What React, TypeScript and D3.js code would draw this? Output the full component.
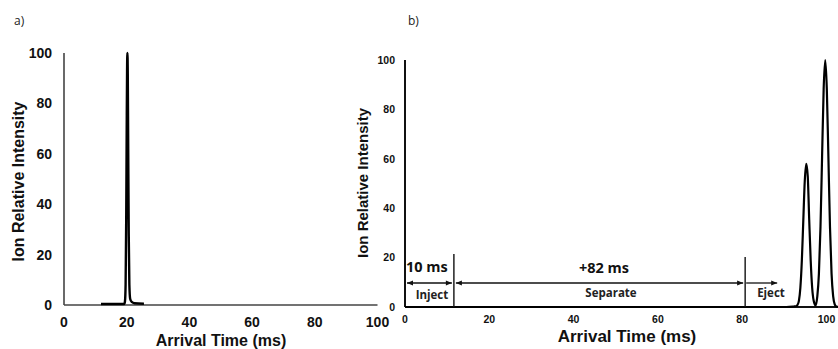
import React from "react";
import * as d3 from "d3";

// ---------- data ----------
const xTicks = [0, 20, 40, 60, 80, 100];
const yTicks = [0, 20, 40, 60, 80, 100];

// Panel a: single sharp peak near 20 ms
const timeA = [11.8, 19.2, 19.45, 19.65, 19.85, 20.0, 20.12, 20.22, 20.34, 20.48, 20.65, 20.85, 21.1, 21.6, 22.5, 25.5];
const intensityA = [0.4, 0.4, 1.5, 8, 35, 70, 93, 100, 92, 62, 28, 8, 2.5, 1.2, 0.7, 0.5];

// Panel b: two peaks near 95 and 100 ms
const timeB = [0, 90.5, 92.2, 92.75, 93.1, 93.45, 93.8, 94.15, 94.5, 94.85, 95.2, 95.55, 95.9, 96.25, 96.6, 96.95, 97.4, 97.825, 98.2, 98.575, 98.95, 99.325, 99.7, 100.075, 100.45, 100.825, 101.2, 101.575, 101.95, 102.325, 102.9];
const intensityB = [0, 0, 0.2, 0.3, 0.8, 2.5, 7.8, 18.8, 35.2, 51.2, 58, 53, 35.2, 18.8, 7.8, 2.6, 0.6, 4.4, 13.5, 32.5, 60.7, 88.2, 100, 88.2, 60.7, 32.5, 13.5, 4.4, 1.1, 0.2, 0];

// Panel b annotation phases (ms)
const phaseBounds = [0, 11.6, 80.7, 88.3];
const phaseNames = ["Inject", "Separate", "Eject"];
const durationLabels = ["10 ms", "+82 ms"];

const ARIAL = "'Liberation Sans', Arial, sans-serif";
const OPEN = "'Open Sans', 'DejaVu Sans', sans-serif";

export default function App() {
  // ---- scales panel a
  const xa = d3.scaleLinear().domain([0, 100]).range([64, 377.5]);
  const ya = d3.scaleLinear().domain([0, 100]).range([305, 53]);
  // ---- scales panel b
  const xb = d3.scaleLinear().domain([0, 100]).range([405, 826.5]);
  const yb = d3.scaleLinear().domain([0, 100]).range([307, 60]);

  const lineA = d3
    .line<number>()
    .x((_, i) => xa(timeA[i]))
    .y((d) => ya(d))
    .curve(d3.curveMonotoneX);
  const lineB = d3
    .line<number>()
    .x((_, i) => xb(timeB[i]))
    .y((d) => yb(d))
    .curve(d3.curveMonotoneX);

  const arrowY = 283;
  const headL = (x: number) => `M${x},${arrowY} l6,-2.6 l0,5.2 Z`;
  const headR = (x: number) => `M${x},${arrowY} l-6,-2.6 l0,5.2 Z`;

  return (
    <svg
      width={838}
      height={349}
      style={{ position: "absolute", left: 0, top: 0, background: "#fff" }}
    >
      <rect width={838} height={349} fill="#fff" />
      {/* ---------------- Panel a ---------------- */}
      <text x={14} y={25} fontFamily={OPEN} fontSize={12} fill="#222">a)</text>
      <line x1={xa(0)} x2={xa(0)} y1={ya(100)} y2={ya(0)} stroke="#444" strokeWidth={1.6} />
      <line x1={xa(0)} x2={xa(100)} y1={ya(0)} y2={ya(0)} stroke="#444" strokeWidth={1.6} />
      {yTicks.map((t) => (
        <text key={"ya" + t} x={52} y={ya(t)} dy="0.36em" textAnchor="end"
          fontFamily={ARIAL} fontWeight="bold" fontSize={14} fill="#111">{t}</text>
      ))}
      {xTicks.map((t) => (
        <text key={"xa" + t} x={xa(t)} y={327} textAnchor="middle"
          fontFamily={ARIAL} fontWeight="bold" fontSize={14} fill="#111">{t}</text>
      ))}
      <path d={lineA(intensityA) || ""} fill="none" stroke="#000" strokeWidth={2.4} strokeLinejoin="round" />
      <text transform={`translate(24,181.5) rotate(-90)`} textAnchor="middle"
        fontFamily={ARIAL} fontWeight="bold" fontSize={16} fill="#111">Ion Relative Intensity</text>
      <text x={221} y={346} textAnchor="middle"
        fontFamily={ARIAL} fontWeight="bold" fontSize={16} fill="#111">Arrival Time (ms)</text>

      {/* ---------------- Panel b ---------------- */}
      <text x={408} y={25} fontFamily={OPEN} fontSize={12} fill="#222">b)</text>
      <line x1={xb(0)} x2={xb(0)} y1={yb(100)} y2={yb(0)} stroke="#111" strokeWidth={2} />
      <line x1={xb(0)} x2={838} y1={yb(0)} y2={yb(0)} stroke="#111" strokeWidth={2} />
      {yTicks.map((t) => (
        <text key={"yb" + t} x={395} y={yb(t)} dy="0.36em" textAnchor="end"
          fontFamily={ARIAL} fontWeight="bold" fontSize={10.5} fill="#111">{t}</text>
      ))}
      {xTicks.map((t) => (
        <text key={"xb" + t} x={xb(t)} y={323} textAnchor="middle"
          fontFamily={ARIAL} fontWeight="bold" fontSize={10.5} fill="#111">{t}</text>
      ))}
      <path d={lineB(intensityB) || ""} fill="none" stroke="#000" strokeWidth={2.2} strokeLinejoin="round" />
      <text transform={`translate(368,183) rotate(-90)`} textAnchor="middle"
        fontFamily={ARIAL} fontWeight="bold" fontSize={15} fill="#111">Ion Relative Intensity</text>
      <text x={627} y={342} textAnchor="middle"
        fontFamily={ARIAL} fontWeight="bold" fontSize={17} fill="#111">Arrival Time (ms)</text>

      {/* phase boundaries */}
      <line x1={xb(phaseBounds[1])} x2={xb(phaseBounds[1])} y1={254} y2={yb(0)} stroke="#111" strokeWidth={1.4} />
      <line x1={xb(phaseBounds[2])} x2={xb(phaseBounds[2])} y1={257} y2={yb(0)} stroke="#111" strokeWidth={1.4} />

      {/* arrows */}
      <line x1={xb(phaseBounds[0]) + 2} x2={xb(phaseBounds[1]) - 2} y1={arrowY} y2={arrowY} stroke="#111" strokeWidth={1.3} />
      <path d={headL(xb(phaseBounds[0]) + 2)} fill="#111" />
      <path d={headR(xb(phaseBounds[1]) - 2)} fill="#111" />
      <line x1={xb(phaseBounds[1]) + 2} x2={xb(phaseBounds[2]) - 2} y1={arrowY} y2={arrowY} stroke="#111" strokeWidth={1.3} />
      <path d={headL(xb(phaseBounds[1]) + 2)} fill="#111" />
      <path d={headR(xb(phaseBounds[2]) - 2)} fill="#111" />
      <line x1={xb(phaseBounds[2]) + 1} x2={xb(phaseBounds[3])} y1={arrowY} y2={arrowY} stroke="#111" strokeWidth={1.3} />
      <path d={headR(xb(phaseBounds[3]))} fill="#111" />

      {/* duration labels */}
      <text x={406} y={272} fontFamily={OPEN} fontWeight="bold" fontSize={14.5} fill="#111">{durationLabels[0]}</text>
      <text x={604} y={273} textAnchor="middle" fontFamily={OPEN} fontWeight="bold" fontSize={14.5} fill="#111">{durationLabels[1]}</text>

      {/* phase names */}
      {phaseNames.map((n, i) => {
        const cx = [432, 611, 771][i];
        return (
          <text key={n} x={cx} y={[299, 297, 297][i]} textAnchor="middle"
            fontFamily={OPEN} fontWeight="bold" fontSize={11.5} fill="#222">{n}</text>
        );
      })}
    </svg>
  );
}
